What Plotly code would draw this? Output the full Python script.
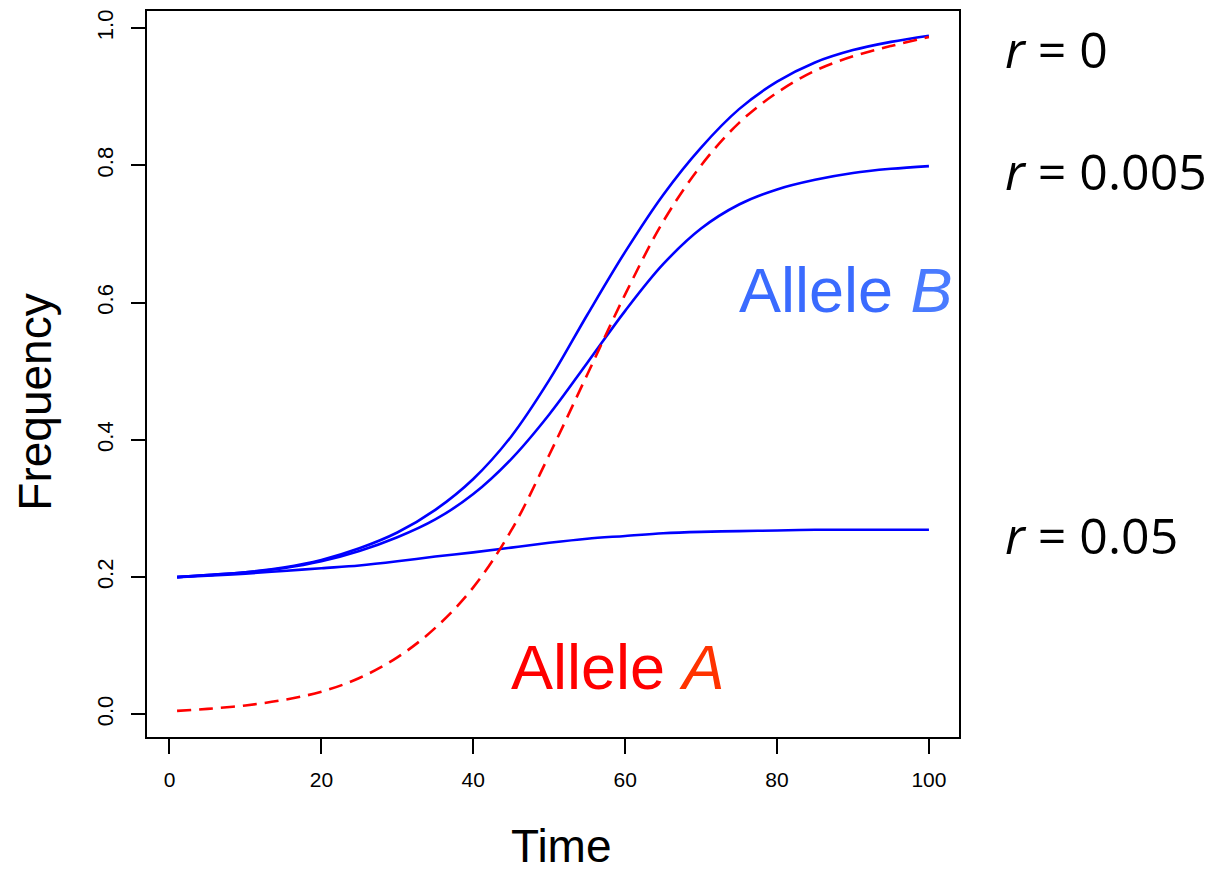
import plotly.graph_objects as go

time_pts = [1, 5, 10, 15, 20, 25, 30, 35, 40, 45, 50, 55, 60, 65, 70, 75, 80, 85, 90, 95, 100]

allele_a = [0.005, 0.008, 0.013, 0.021, 0.033, 0.053, 0.083, 0.126, 0.185, 0.268, 0.378,
            0.495, 0.612, 0.718, 0.800, 0.862, 0.906, 0.938, 0.959, 0.974, 0.987]

allele_b_r0 = [0.200, 0.203, 0.207, 0.214, 0.225, 0.242, 0.265, 0.298, 0.343, 0.405, 0.487,
               0.582, 0.674, 0.757, 0.826, 0.882, 0.922, 0.950, 0.968, 0.980, 0.989]

allele_b_r0005 = [0.200, 0.203, 0.207, 0.213, 0.223, 0.238, 0.258, 0.284, 0.321, 0.372, 0.437,
                  0.512, 0.588, 0.656, 0.708, 0.743, 0.765, 0.779, 0.789, 0.795, 0.799]

allele_b_r005 = [0.200, 0.202, 0.205, 0.209, 0.213, 0.217, 0.223, 0.230, 0.236, 0.243, 0.250,
                 0.256, 0.260, 0.264, 0.266, 0.267, 0.268, 0.269, 0.269, 0.269, 0.269]

x_ticks = [0, 20, 40, 60, 80, 100]
y_ticks = [0.0, 0.2, 0.4, 0.6, 0.8, 1.0]
r_labels = ["<i>r</i> = 0", "<i>r</i> = 0.005", "<i>r</i> = 0.05"]

fig = go.Figure()
for ys in (allele_b_r0, allele_b_r0005, allele_b_r005):
    fig.add_trace(go.Scatter(x=time_pts, y=ys, mode="lines",
                             line=dict(color="#0000ff", width=2.6, shape="spline", smoothing=1.0),
                             showlegend=False, hoverinfo="skip"))
fig.add_trace(go.Scatter(x=time_pts, y=allele_a, mode="lines",
                         line=dict(color="#ff0000", width=2.6, dash="14px,8px", shape="spline", smoothing=1.0),
                         showlegend=False, hoverinfo="skip"))

axis_font = dict(family="Liberation Sans, Arial, sans-serif", size=21, color="black")

fig.update_layout(
    width=1212, height=871,
    margin=dict(l=147, r=253, t=9, b=134),
    paper_bgcolor="white", plot_bgcolor="white",
    xaxis=dict(range=[-2.96, 103.96], tickvals=x_ticks, ticks="outside", ticklen=15,
               tickwidth=1.5, tickcolor="black", showline=True, linecolor="black",
               linewidth=1.8, mirror=True, showgrid=False, zeroline=False,
               tickfont=axis_font, ticklabelstandoff=8),
    yaxis=dict(range=[-0.033, 1.025], tickvals=y_ticks, tickformat=".1f", ticks="outside",
               ticklen=14, tickwidth=1.5, tickcolor="black", showline=True, linecolor="black",
               linewidth=1.8, mirror=True, showgrid=False, zeroline=False,
               tickangle=-90, ticklabelstandoff=9,
               tickfont=dict(family="Liberation Sans, Arial, sans-serif", size=22, color="black")),
)

big = "Liberation Sans, Arial, sans-serif"
fig.add_annotation(text="Time", xref="paper", yref="paper", x=0.511, y=-0.150,
                   xanchor="center", yanchor="middle", showarrow=False,
                   font=dict(family=big, size=46, color="black"))
fig.add_annotation(text="Frequency", xref="paper", yref="paper", x=-0.1375, y=0.461,
                   xanchor="center", yanchor="middle", showarrow=False, textangle=-90,
                   font=dict(family=big, size=46, color="black"))
fig.add_annotation(text="Allele <i><span style='color:#4a7bff'>B</span></i>", xref="x", yref="y",
                   x=89.1, y=0.618, xanchor="center", yanchor="middle", showarrow=False,
                   font=dict(family=big, size=63, color="#3a6bff"))
fig.add_annotation(text="Allele <i><span style='color:#ff3300'>A</span></i>", xref="x", yref="y",
                   x=59.0, y=0.069, xanchor="center", yanchor="middle", showarrow=False,
                   font=dict(family=big, size=63, color="#ff0000"))

for lbl, py in zip(r_labels, [0.948, 0.7798, 0.2784]):
    fig.add_annotation(text=lbl, xref="paper", yref="paper", x=1.0537, y=py,
                       xanchor="left", yanchor="middle", showarrow=False,
                       font=dict(family="Open Sans, Noto Sans, sans-serif", size=50, color="black"))

fig.write_html("out.html")
